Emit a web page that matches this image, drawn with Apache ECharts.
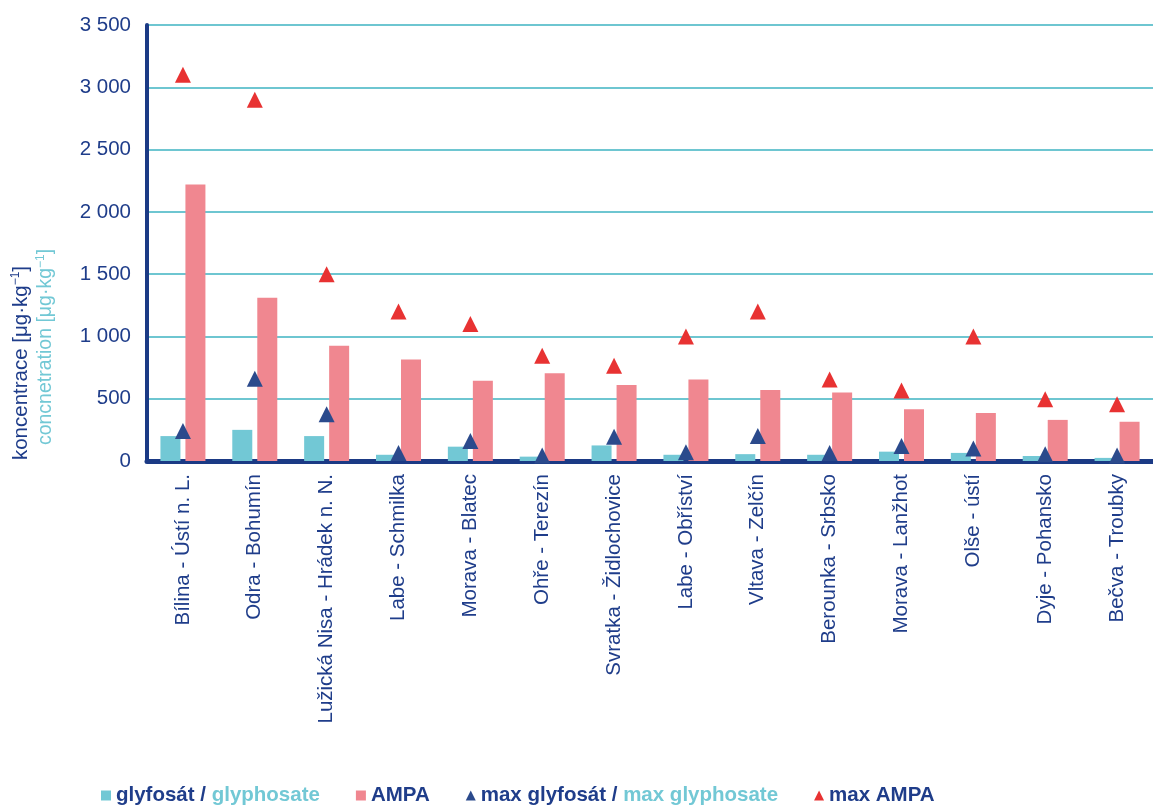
<!DOCTYPE html>
<html>
<head>
<meta charset="utf-8">
<script src="https://cdn.jsdelivr.net/npm/echarts@6/dist/echarts.min.js"></script>
<style>html,body{margin:0;padding:0;background:#fff}#c{width:1153px;height:808px}</style>
</head>
<body>
<div id="c"></div>
<script>
const categories = ['Bílina - Ústí n. L.', 'Odra - Bohumín', 'Lužická Nisa - Hrádek n. N.', 'Labe - Schmilka', 'Morava - Blatec', 'Ohře - Terezín', 'Svratka - Židlochovice', 'Labe - Obříství', 'Vltava - Zelčín', 'Berounka - Srbsko', 'Morava - Lanžhot', 'Olše - ústí', 'Dyje - Pohansko', 'Bečva - Troubky'];
const glyphosate = [200, 250, 200, 50, 115, 35, 125, 50, 55, 50, 75, 65, 40, 25];
const ampa = [2220, 1310, 925, 815, 645, 705, 610, 655, 570, 550, 415, 385, 330, 315];
const maxGlyphosate = [240, 660, 375, 65, 160, 45, 195, 70, 200, 65, 120, 100, 55, 45];
const maxAmpa = [3100, 2900, 1500, 1200, 1100, 845, 765, 1000, 1200, 655, 565, 1000, 495, 455];
const yTicks = [0, 500, 1000, 1500, 2000, 2500, 3000, 3500];

const NAVY = '#1F3D8A', TEAL = '#72C8D5', PINK = '#F08790', RED = '#E83232', TRI = '#2B4A8C';
const FONT = '"Liberation Sans", Arial, sans-serif';

const chart = echarts.init(document.getElementById('c'));
const fmt = v => String(v).replace(/\B(?=(\d{3})+(?!\d))/g, ' ');

chart.setOption({
  animation: false,
  textStyle: { fontFamily: FONT },
  grid: { left: 147, right: 0, top: 25, bottom: 347 },
  xAxis: {
    type: 'category',
    data: categories,
    axisLine: { lineStyle: { color: '#1B3A85', width: 5 } },
    axisTick: { show: false },
    axisLabel: { rotate: 90, color: NAVY, fontSize: 20.5, fontFamily: FONT, margin: 13, interval: 0 }
  },
  yAxis: {
    type: 'value',
    min: yTicks[0], max: yTicks[yTicks.length - 1], interval: 500,
    axisLine: { show: true, lineStyle: { color: '#1B3A85', width: 4 } },
    axisTick: { show: false },
    splitLine: { lineStyle: { color: '#6EC6D1', width: 2 } },
    axisLabel: { color: NAVY, fontSize: 20.5, fontFamily: FONT, margin: 16, formatter: fmt }
  },
  legend: {
    top: 780, left: 96,
    itemGap: 36,
    itemWidth: 10, itemHeight: 10,
    textStyle: {
      fontFamily: FONT, fontSize: 20.5, fontWeight: 'bold', color: NAVY,
      rich: {
        n: { fontFamily: FONT, fontSize: 20.5, fontWeight: 'bold', color: NAVY },
        t: { fontFamily: FONT, fontSize: 20.5, fontWeight: 'bold', color: TEAL }
      }
    },
    data: [
      { name: 'glyfosát / glyphosate', icon: 'rect' },
      { name: 'AMPA', icon: 'rect' },
      { name: 'max glyfosát / max glyphosate', icon: 'triangle' },
      { name: 'max AMPA', icon: 'triangle' }
    ],
    formatter: function (name) {
      if (name === 'glyfosát / glyphosate') return '{n|glyfosát /} {t|glyphosate}';
      if (name === 'max glyfosát / max glyphosate') return '{n|max glyfosát /} {t|max glyphosate}';
      return '{n|' + name + '}';
    }
  },
  graphic: [
    {
      type: 'text', x: 21, y: 363, rotation: Math.PI / 2,
      style: {
        text: '{a|koncentrace [μg·kg}{s|−1}{a|]}',
        align: 'center', verticalAlign: 'middle',
        rich: {
          a: { fontFamily: FONT, fontSize: 20.5, fill: NAVY, lineHeight: 22 },
          s: { fontFamily: FONT, fontSize: 12, fill: NAVY, verticalAlign: 'top', lineHeight: 22 }
        }
      }
    },
    {
      type: 'text', x: 46, y: 347, rotation: Math.PI / 2,
      style: {
        text: '{a|concnetration [μg·kg}{s|−1}{a|]}',
        align: 'center', verticalAlign: 'middle',
        rich: {
          a: { fontFamily: FONT, fontSize: 19.5, fill: TEAL, lineHeight: 22 },
          s: { fontFamily: FONT, fontSize: 12, fill: TEAL, verticalAlign: 'top', lineHeight: 22 }
        }
      }
    }
  ],
  series: [
    { name: 'glyfosát / glyphosate', type: 'bar', data: glyphosate, barWidth: 20, barGap: '25%', itemStyle: { color: TEAL } },
    { name: 'AMPA', type: 'bar', data: ampa, barWidth: 20, barGap: '25%', itemStyle: { color: PINK } },
    { name: 'max glyfosát / max glyphosate', type: 'scatter', data: maxGlyphosate, symbol: 'triangle', symbolSize: 16, itemStyle: { color: TRI, opacity: 1 }, z: 5 },
    { name: 'max AMPA', type: 'scatter', data: maxAmpa, symbol: 'triangle', symbolSize: 16, itemStyle: { color: RED, opacity: 1 }, z: 5 }
  ]
});
</script>
</body>
</html>
